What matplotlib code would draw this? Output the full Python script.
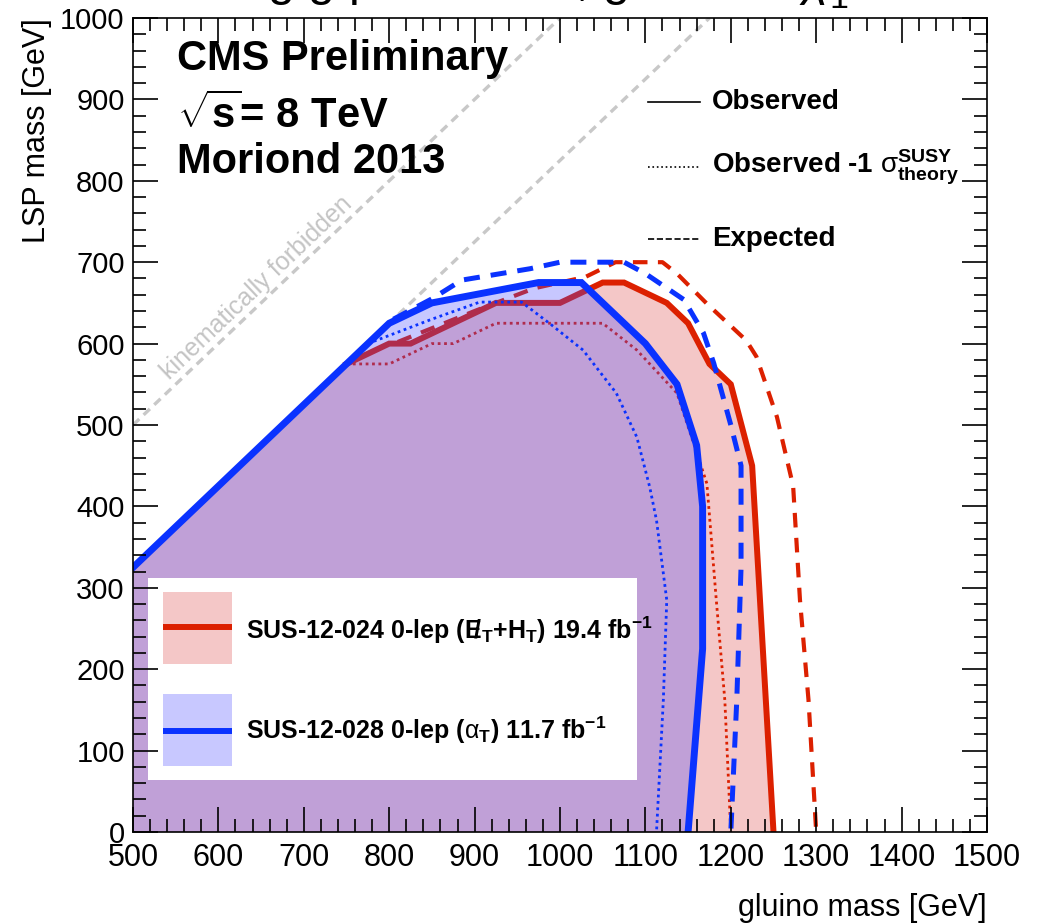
import matplotlib
matplotlib.use("Agg")
import matplotlib.pyplot as plt
from matplotlib.ticker import MultipleLocator
from matplotlib.patches import Rectangle
from matplotlib.lines import Line2D

plt.rcParams['font.family'] = ['Liberation Sans', 'DejaVu Sans']
plt.rcParams['mathtext.fontset'] = 'custom'
plt.rcParams['mathtext.rm'] = 'Liberation Sans'
plt.rcParams['mathtext.it'] = 'Liberation Sans:italic'
plt.rcParams['mathtext.bf'] = 'Liberation Sans:bold'
plt.rcParams['mathtext.sf'] = 'Liberation Sans'

# kinematic boundaries (LSP = gluino, and gluino - LSP = 175)
kin_x = [500, 1000]
kin_y = [500, 1000]
off_x = [500, 1175]
off_y = [325, 1000]

# SUS-12-024 (red)
red_obs_x = [750, 800, 825, 925, 1000, 1050, 1075, 1125, 1150, 1175, 1200, 1225, 1250]
red_obs_y = [575, 600, 600, 650, 650, 675, 675, 650, 625, 575, 550, 450, 0]
red_m1_x = [750, 800, 850, 875, 925, 1050, 1090, 1137, 1162, 1172, 1183, 1193, 1200]
red_m1_y = [575, 575, 600, 600, 625, 625, 592, 539, 460, 428, 285, 162, 0]
red_exp_x = [810, 900, 970, 1030, 1065, 1120, 1137, 1172, 1218, 1230, 1254, 1273, 1281, 1291, 1300]
red_exp_y = [602, 640, 668, 682, 700, 700, 686, 649, 604, 584, 510, 425, 285, 162, 0]

# SUS-12-028 (blue)
blue_obs_x = [500, 800, 850, 975, 1025, 1100, 1137, 1160, 1167, 1167, 1150]
blue_obs_y = [325, 625, 650, 675, 675, 600, 550, 475, 400, 225, 0]
blue_m1_x = [775, 850, 906, 955, 990, 1027, 1066, 1090, 1105, 1113, 1125, 1121, 1113]
blue_m1_y = [600, 630, 651, 651, 623, 592, 539, 485, 424, 383, 285, 162, 0]
blue_exp_x = [805, 850, 885, 965, 1000, 1075, 1100, 1145, 1168, 1180, 1200, 1212, 1212, 1207, 1200]
blue_exp_y = [630, 655, 678, 692, 700, 700, 686, 654, 613, 576, 500, 450, 325, 162, 0]

red = '#dc2000'
blue = '#0a32ff'
pink = '#f4c7c7'
blue_fill = (72/255, 72/255, 1.0)

fig = plt.figure(figsize=(10.44, 9.23), dpi=100)
ax = fig.add_axes([0.1274, 0.0986, 0.818, 0.8819])
ax.set_xlim(500, 1500)
ax.set_ylim(0, 1000)

# gray kinematic lines
ax.plot(kin_x, kin_y, color='#c8c8c8', lw=2.4, dashes=(2.6, 1.8), zorder=0.5)
ax.plot(off_x, off_y, color='#c8c8c8', lw=2.4, dashes=(2.6, 1.8), zorder=0.5)
ax.text(645, 668, 'kinematically forbidden', color='#c4c4c4', fontsize=18,
        rotation=43.6, ha='center', va='center', rotation_mode='anchor', zorder=0.6)

# red region + lines
ax.fill([blue_obs_x[0], blue_obs_x[0]] + red_obs_x,
        [0, blue_obs_y[0]] + red_obs_y, color=pink, lw=0, zorder=1)
ax.plot(red_obs_x, red_obs_y, color=red, lw=4.3, zorder=2, solid_joinstyle='miter')
ax.plot(red_m1_x, red_m1_y, color=red, lw=2, dashes=(1, 1.3), zorder=2)
ax.plot(red_exp_x, red_exp_y, color=red, lw=3, dashes=(3.5, 2.5), zorder=2)

# blue region (translucent over red) + lines
ax.fill(blue_obs_x + [blue_obs_x[0]], blue_obs_y + [0], color=blue_fill, alpha=0.3,
        lw=0, zorder=3)
ax.plot(blue_obs_x, blue_obs_y, color=blue, lw=5, zorder=4, solid_joinstyle='miter')
ax.plot(blue_m1_x, blue_m1_y, color=blue, lw=2, dashes=(1, 1.3), zorder=4)
ax.plot(blue_exp_x, blue_exp_y, color=blue, lw=3.6, dashes=(3.2, 2.2), zorder=4)

# axes styling
ax.xaxis.set_major_locator(MultipleLocator(100))
ax.xaxis.set_minor_locator(MultipleLocator(20))
ax.yaxis.set_major_locator(MultipleLocator(100))
ax.yaxis.set_minor_locator(MultipleLocator(20))
ax.tick_params(which='both', direction='in', top=True, right=True, width=1.2)
ax.tick_params(which='major', length=18)
ax.tick_params(which='minor', length=9.5)
ax.tick_params(axis='x', labelsize=22, pad=8)
ax.tick_params(axis='y', labelsize=21, pad=6)
for s in ax.spines.values():
    s.set_linewidth(1.2)
    s.set_zorder(6)
ax.xaxis.set_zorder(6)
ax.yaxis.set_zorder(6)
ax.set_xlabel('gluino mass [GeV]', fontsize=22, loc='right', labelpad=14)
ax.set_ylabel('LSP mass [GeV]', fontsize=22, loc='top', labelpad=6)

# CMS labels
ax.text(0.0515, 0.936, 'CMS Preliminary', transform=ax.transAxes, fontsize=30,
        fontweight='bold', va='baseline', zorder=7)
ax.text(0.0515, 0.865, r'$\sqrt{\mathbf{s}}$= 8 TeV', transform=ax.transAxes, fontsize=30,
        fontweight='bold', va='baseline', zorder=7)
ax.text(0.0515, 0.8096, 'Moriond 2013', transform=ax.transAxes, fontsize=30,
        fontweight='bold', va='baseline', zorder=7)

# line-style legend
styles = [('-', 'Observed'),
          (':', r'Observed -1 $\mathrm{\sigma}^{\mathbf{SUSY}}_{\mathbf{theory}}$'),
          ('--', 'Expected')]
ys = [0.897, 0.817, 0.7285]
for (ls, lab), yy in zip(styles, ys):
    ln = Line2D([0.603, 0.664], [yy, yy], transform=ax.transAxes, color='black',
                lw=1.2, linestyle=ls, zorder=7)
    ax.add_line(ln)
    ax.text(0.678, yy, lab, transform=ax.transAxes, fontsize=20, fontweight='bold',
            va='center', ha='left', zorder=7)

# analysis legend
ax.add_patch(Rectangle((0.0176, 0.0639), 0.5726, 0.2481, transform=ax.transAxes,
                       facecolor='white', edgecolor='none', zorder=5))
ax.add_patch(Rectangle((0.0351, 0.2064), 0.0808, 0.0884, transform=ax.transAxes,
                       facecolor=pink, edgecolor='none', zorder=5.5))
ax.add_patch(Rectangle((0.0351, 0.0811), 0.0808, 0.0884, transform=ax.transAxes,
                       facecolor='#c8c8ff', edgecolor='none', zorder=5.5))
ax.add_line(Line2D([0.0351, 0.1159], [0.2518, 0.2518], transform=ax.transAxes,
                   color=red, lw=4.3, zorder=5.6, solid_capstyle='butt'))
ax.add_line(Line2D([0.0351, 0.1159], [0.1241, 0.1241], transform=ax.transAxes,
                   color=blue, lw=4.3, zorder=5.6, solid_capstyle='butt'))
ax.text(0.1323, 0.2482,
        r'SUS-12-024 0-lep ($\mathbf{E\!\!/}_{\mathbf{T}}$+H$_{\mathbf{T}}$) 19.4 fb$^{\mathbf{-1}}$',
        transform=ax.transAxes, fontsize=18, fontweight='bold', va='center', zorder=7)
ax.text(0.1323, 0.1253,
        r'SUS-12-028 0-lep ($\mathrm{\alpha}_{\mathbf{T}}$) 11.7 fb$^{\mathbf{-1}}$',
        transform=ax.transAxes, fontsize=18, fontweight='bold', va='center', zorder=7)

# title, cropped at the top of the canvas
fig.text(0.256, 1.004, r'$\mathrm{\tilde{g}\ \tilde{g}}$ production, '
         r'$\mathrm{\tilde{g}\ \rightarrow\ b\ \bar{b}}\ \tilde{\chi}^{0}_{1}$',
         fontsize=35, ha='left', va='baseline')

fig.savefig('out.png', dpi=100)
